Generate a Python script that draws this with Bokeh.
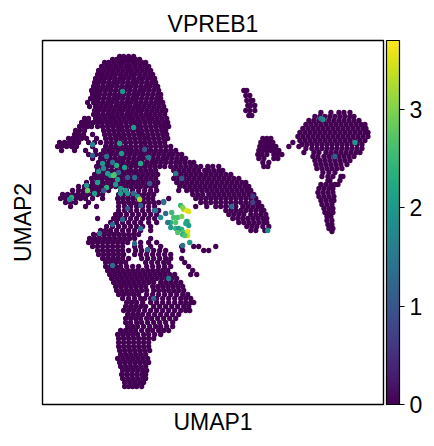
from bokeh.embed import file_html
from bokeh.resources import INLINE
from bokeh.plotting import figure
from bokeh.models import ColorBar, ColumnDataSource, FixedTicker, LinearColorMapper, Range1d
from bokeh.palettes import Viridis256
from bokeh.transform import transform

GENE = "VPREB1"
VALUE_MAX = 3.70
CBAR_TICKS = [0, 1, 2, 3]

# zero-expression cells (UMAP2, [UMAP1 ...])
HEAD_ROWS = [
    (56, [119,123,128,133]),
    (59, [112,116,121,125,130,135,139]),
    (62, [104,108,113,118,122,127,132,136,141,145]),
    (66, [101,106,110,115,120,125,129,134,139,144,148]),
    (70, [98,103,108,112,117,122,127,131,136,141,146,150]),
    (74, [97,101,106,111,115,120,125,130,134,139,144,149,152]),
    (78, [95,100,104,109,114,119,123,128,133,138,142,147,151,154]),
    (82, [94,98,103,108,113,117,122,127,132,136,141,146,151,155]),
    (86, [93,97,102,107,111,116,121,126,130,135,140,145,149,154,157]),
    (90, [91,96,100,105,110,115,120,124,129,134,139,143,148,153,158]),
    (94, [92,95,99,104,109,114,119,123,128,133,137,142,147,152,157,160]),
    (98, [90,94,98,103,108,113,117,122,127,132,136,141,146,151,156,160]),
    (102, [87,93,97,102,107,111,116,121,126,130,135,140,145,150,155,159,162]),
    (106, [89,95,100,105,110,115,119,124,129,134,138,143,148,153,158,163]),
    (110, [94,98,103,108,113,118,122,127,132,137,141,146,151,156,161,165]),
    (114, [93,97,102,107,111,116,121,126,130,135,140,145,149,154,159,164]),
    (118, [84,88,95,99,104,109,113,118,123,128,132,137,142,147,151,156,161,166]),
    (122, [81,85,89,93,97,101,106,110,115,120,125,130,134,139,144,149,154,158,163,167]),
    (126, [79,83,87,91,97,102,107,112,117,121,126,131,136,140,145,150,155,160,164,168]),
    (130, [75,79,84,103,108,113,118,122,127,132,137,141,146,151,156,161,165]),
    (134, [74,78,83,92,104,109,114,118,123,128,133,138,142,147,152,157,162,166]),
    (138, [68,72,76,81,86,96,105,110,115,120,124,129,134,139,144,148,153,158,163,167]),
    (142, [59,64,69,73,78,88,94,100,106,111,116,120,125,130,135,140,144,149,154,159,164]),
    (146, [57,61,66,71,76,92,105,110,115,120,125,130,135,140,145,150,155,160,165,170]),
    (150, [61,74,85,95,103,108,112,117,122,127,131,136,141,146,150,155,160,165,170,175]),
    (154, [88,95,100,105,110,115,120,124,129,134,139,143,148,153,158,163,168,172,177,181]),
    (158, [92,100,104,109,114,119,123,128,133,138,142,147,152,157,162,166,171,176,181,185]),
    (162, [98,103,108,113,117,122,127,132,136,141,146,151,155,160,165,170,175,179,184,189,193]),
    (166, [96,101,106,111,116,120,125,130,135,140,144,149,154,159,164,170,175,180,185,190,195,200,207,212,218]),
    (170, [97,102,106,111,116,121,126,130,135,140,145,150,155,173,178,183,188,193,198,204,208,213,218,222]),
    (174, [94,99,104,108,113,118,123,128,133,137,142,147,152,157,175,180,185,190,195,200,205,210,215,220,225,230]),
    (178, [91,96,101,106,110,115,120,125,130,135,140,145,150,155,173,178,183,188,193,198,203,208,213,218,223,228,233,238]),
    (182, [86,92,97,102,107,112,117,122,127,132,137,142,147,152,157,176,181,186,191,196,201,206,211,216,221,226,231,236,241,245]),
    (186, [78,84,90,95,100,105,110,115,120,125,130,135,140,145,150,155,179,184,189,194,199,204,209,214,219,224,229,234,239,244,248]),
    (190, [72,78,83,88,93,98,103,108,120,126,132,138,144,150,156,178,186,191,196,201,206,211,216,221,226,231,236,241,246,250]),
    (194, [62,67,72,77,82,87,92,97,102,118,123,128,133,138,143,148,153,192,197,202,208,213,218,223,228,233,238,243,248,253]),
    (198, [60,65,70,75,80,85,92,102,117,122,127,132,137,142,147,152,168,195,200,205,210,215,220,225,230,235,240,245,250,255]),
    (202, [65,70,75,88,118,123,128,133,138,143,148,153,158,200,205,210,215,220,225,230,235,240,245,250,255,258]),
    (206, [70,85,96,118,124,130,136,142,148,154,195,206,215,220,225,230,235,242,247,252,257,261]),
    (210, [118,124,130,136,142,148,154,158,225,230,235,240,245,250,255,260,263]),
    (214, [115,120,126,132,138,144,150,156,228,233,238,243,250,255,260,265]),
    (218, [97,113,118,124,130,136,142,148,154,232,237,242,247,252,257,262,266]),
    (222, [110,116,122,128,134,140,148,156,238,243,248,253,258,263,266]),
    (226, [106,112,118,124,130,136,142,150,246,251,256,262,268]),
    (230, [100,105,110,116,122,128,134,140,150,250,255,264]),
]
LOWER_ROWS = [
    (234, [93,98,103,108,113,118,123,128,133,138]),
    (238, [89,94,99,104,109,114,119,124,129,134,150]),
    (242, [88,92,97,102,107,112,117,122,127,140,148,156]),
    (246, [92,97,102,107,112,117,122,134,140,150,160,181,193,198,215]),
    (250, [97,102,107,112,117,122,128,135,141,147,153,159,165,182,203,208]),
    (254, [98,103,108,113,118,123,134,140,146,152,158,164,170]),
    (258, [102,107,112,117,122,128,141,147,153,159,165,170,181]),
    (262, [105,110,115,120,125,145,151,157,163,168,184]),
    (266, [105,110,115,120,126,132,138,146,152,158,164,170,188]),
    (270, [107,112,117,122,127,132,137,142,147,152,157,162,167,192]),
    (274, [109,114,119,124,129,134,139,144,149,154,159,164,169,174,190,196]),
    (278, [111,116,121,126,131,136,141,146,151,156,161,166,171,176]),
    (282, [113,118,123,128,133,138,143,148,153,160,165,170,175,180]),
    (286, [115,120,125,130,135,140,145,152,157,162,167,172,177,182]),
    (290, [116,121,126,131,136,141,146,153,158,163,168,173,178,183]),
    (294, [118,123,128,133,138,146,152,158,164,170,176,182,187]),
    (298, [122,128,134,140,144,150,156,162,168,174,180,185,190]),
    (302, [126,131,136,142,150,156,162,168,174,180,185,190,193]),
    (306, [125,130,135,140,145,153,159,165,171,177,183,188]),
    (310, [123,128,133,138,144,150,156,162,168,174,180,185,189]),
    (314, [127,132,137,142,148,154,160,166,172,178]),
    (318, [125,130,135,140,146,151,157,163,169,175]),
    (322, [125,130,136,141,147,153,159,165,172]),
    (326, [127,132,137,143,149,155,160,166,172]),
    (330, [120,125,130,135,141,147,152,158,163,168]),
    (334, [117,122,127,132,137,143,148,154,160]),
    (338, [118,123,128,133,138,143,148,153]),
    (342, [118,123,128,133,138,143,148]),
    (346, [118,123,128,133,138,143,148]),
    (350, [119,124,129,134,139,144,149]),
    (354, [120,125,130,135,140,145]),
    (358, [117,122,127,132,137,142,147]),
    (362, [119,124,129,134,139,144,148]),
    (366, [120,125,130,135,140,145]),
    (370, [122,127,132,137,142,146]),
    (374, [121,126,131,136,141,145]),
    (378, [122,127,132,137,142,145]),
    (382, [124,129,134,139,143]),
    (386, [124,128,132,136,141]),
]
ISLET_ROWS = [
    (90, [243,246]), (95, [245,249]), (100, [246,250,252]), (105, [247,250,254]),
    (110, [245,249,254]), (115, [248,251]),
    (138, [262,266,270]), (142, [260,264,268,272,292]), (146, [259,263,267,271,275,288,298]),
    (150, [258,262,266,270,274,278]), (154, [257,261,266,273,277,281]),
    (158, [258,263,273,277]), (162, [262,268]), (166, [263,267]),
]
RIGHT_ROWS = [
    (112, [320,330,338,343,349]),
    (116, [314,319,324,329,334,339,344,349,353]),
    (120, [308,313,318,323,328,333,338,343,348,353,358]),
    (124, [305,310,315,320,325,330,335,340,345,350,355,360,364]),
    (128, [302,307,312,317,322,327,332,337,342,347,352,357,362,365]),
    (132, [299,304,309,314,319,324,329,334,339,344,349,354,359,364,367]),
    (136, [297,302,307,312,317,322,327,332,337,342,347,352,357,362,367]),
    (140, [299,304,309,314,319,324,329,334,339,344,349,354,359,364]),
    (144, [301,306,311,316,321,326,331,336,341,346,351,356,361]),
    (148, [305,311,316,321,326,331,336,341,346,351,356,361]),
    (152, [303,313,318,325,330,335,340,345,350,355,359]),
    (156, [312,317,323,328,333,338,343,348,353]),
    (160, [314,319,324,329,334,339,344,349]),
    (164, [315,320,325,330,335,340,346]),
    (168, [316,321,326,331,336,341]),
    (172, [322,328,334]),
    (176, [321,327,332,342,340]),
    (180, [327,329,339]),
    (184, [320,325,330,334,337]),
    (188, [318,323,328,332]),
    (192, [317,322,327,332]),
    (196, [318,323,328,333]),
    (200, [320,325,330,333]),
    (204, [321,326,331]),
    (208, [323,328,332]),
    (212, [324,328,332]),
    (216, [326,330]),
    (220, [326,331]),
    (224, [327,331]),
    (228, [328,332]),
    (231, [331]),
]

# cells with non-zero expression
EXPR_X = [122,133,119,92,92,121,144,148,140,124,106,116,102,112,98,107,103,114,118,110,117,97,86,87,94,106,115,120,
          127,134,149,175,181,103,125,120,127,133,137,139,71,69,113,140,154,163,127,
          180,183,186,182,188,171,173,177,170,175,181,167,165,187,186,188,185,170,175,178,177,181,183,187,182,187,184,
          189,182,160,155,163,140,122,112,99,147,112,168,153,134,322,320,354,334,267,231,252,252]
EXPR_Y = [91,127,143,144,155,153,149,157,163,167,156,165,163,162,171,173,168,174,172,175,179,182,185,190,193,187,184,188,
          177,177,183,173,178,190,190,193,193,193,196,199,197,199,175,205,210,201,208,
          205,209,210,207,211,212,217,217,222,222,216,222,213,221,221,225,223,227,228,228,232,229,232,231,234,235,235,
          242,245,217,210,202,228,219,224,233,249,265,278,298,243,119,118,142,156,230,206,202,196]
EXPR_V = [1.9,2.0,2.1,1.7,1.2,2.0,1.0,1.5,2.2,2.1,1.4,2.3,2.0,1.4,1.9,2.0,1.8,2.5,1.2,2.0,2.0,2.1,2.0,2.8,2.1,2.4,2.0,2.0,
          1.0,1.3,1.0,1.5,1.0,1.0,2.0,2.0,2.0,1.3,2.0,3.2,2.3,1.8,2.7,1.0,1.2,1.4,1.0,
          2.4,3.3,3.6,3.0,3.5,2.5,2.6,2.6,2.3,2.7,3.0,1.5,1.2,3.2,2.1,2.0,2.2,2.0,2.4,1.9,2.7,2.3,2.8,3.5,2.3,3.4,2.7,
          2.0,1.4,1.8,1.5,1.4,1.4,1.3,1.3,1.4,1.3,1.3,1.5,1.2,1.2,2.0,1.5,2.0,1.1,1.8,1.3,0.7,0.6]

xs, ys, vs = [], [], []
for rows in (HEAD_ROWS, LOWER_ROWS, ISLET_ROWS, RIGHT_ROWS):
    for y, row in rows:
        for x in row:
            xs.append(x)
            ys.append(y)
            vs.append(0.0)
xs += EXPR_X
ys += EXPR_Y
vs += EXPR_V
src = ColumnDataSource(dict(umap1=xs, umap2=ys, val=vs))

FONT = "Liberation Sans"
mapper = LinearColorMapper(palette=Viridis256, low=0, high=VALUE_MAX)

p = figure(width=426, height=438, output_backend="svg", toolbar_location=None,
           x_range=Range1d(42, 382.5), y_range=Range1d(404, 40),
           min_border_left=42, min_border_top=40, min_border_bottom=34, min_border_right=43,
           title=GENE, x_axis_label="UMAP1", y_axis_label="UMAP2")
p.scatter("umap1", "umap2", source=src, size=5.3, marker="circle",
          fill_color=transform("val", mapper), line_color=None)

p.grid.visible = False
p.title.align = "center"
p.title.text_font = FONT
p.title.text_font_size = "23px"
p.title.text_font_style = "normal"
p.title.text_color = "black"
p.title.standoff = 8
for ax in (p.xaxis[0], p.yaxis[0]):
    ax.ticker = FixedTicker(ticks=[])
    ax.major_label_text_font_size = "0px"
    ax.major_tick_line_color = None
    ax.minor_tick_line_color = None
    ax.axis_line_color = None
    ax.axis_label_text_font = FONT
    ax.axis_label_text_font_size = "23px"
    ax.axis_label_text_font_style = "normal"
    ax.axis_label_text_color = "black"
p.xaxis[0].axis_label_standoff = 4
p.yaxis[0].axis_label_standoff = 7
p.outline_line_color = "black"
p.outline_line_width = 1.4
p.outline_line_alpha = 1
p.background_fill_color = "white"

cb = ColorBar(color_mapper=mapper, ticker=FixedTicker(ticks=CBAR_TICKS), width=13, height=364,
              location=(3, 0), padding=0, margin=0, bar_line_color="black", bar_line_width=1.2,
              major_tick_in=0, major_tick_out=5, major_tick_line_color="black", major_tick_line_width=1.2,
              minor_tick_line_color=None, label_standoff=5,
              major_label_text_font=FONT, major_label_text_font_size="23px", major_label_text_color="black")
p.add_layout(cb, "right")

open("out.html", "w").write(file_html(p, INLINE))
